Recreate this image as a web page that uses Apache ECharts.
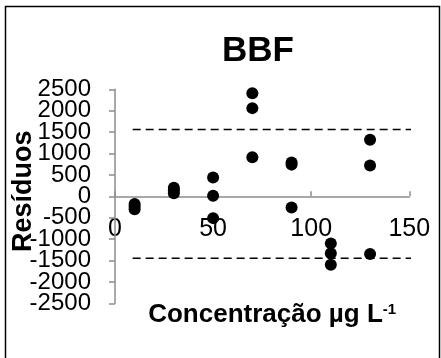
<!DOCTYPE html>
<html>
<head>
<meta charset="utf-8">
<script src="https://cdn.jsdelivr.net/npm/echarts@6/dist/echarts.min.js"></script>
<style>
  html, body { margin: 0; padding: 0; background: #fff; }
  #chart { width: 441px; height: 358px; }
</style>
</head>
<body>
<div id="chart"></div>
<script>
// Residuals per concentration level (three replicates each)
const concentrations = [10, 10, 10, 30, 30, 30, 50, 50, 50, 70, 70, 70, 90, 90, 90, 110, 110, 110, 130, 130, 130];
const residuals = [-180, -240, -300, 200, 140, 70, 440, 15, -510, 2410, 2060, 910, 790, 740, -260, -1100, -1330, -1600, 1320, 720, -1350];

// Upper and lower limit lines (dashed)
const limitX = [9, 153];
const upperLimit = 1560;
const lowerLimit = -1450;

// Axis ticks
const xTicks = [0, 50, 100, 150];
const yTicks = [-2500, -2000, -1500, -1000, -500, 0, 500, 1000, 1500, 2000, 2500];

const points = concentrations.map((c, i) => [c, residuals[i]]);
const upperLine = limitX.map(x => [x, upperLimit]);
const lowerLine = limitX.map(x => [x, lowerLimit]);

const font = 'Liberation Sans, Arial, sans-serif';
const axisGrey = '#8c8c8c';
const plain = v => String(v);
// The tightly packed y labels are split over two coincident axes so that
// neighbouring labels are never dropped for overlapping.
const yStep = 500;
const oddLabels = v => (Math.round(v / yStep) % 2 !== 0 ? String(v) : '');
const evenLabels = v => (Math.round(v / yStep) % 2 === 0 ? String(v) : '');

const yLabelStyle = { margin: 24, fontFamily: font, fontSize: 24, color: '#000', showMinLabel: true, showMaxLabel: true };

const chart = echarts.init(document.getElementById('chart'), null, { renderer: 'canvas' });
chart.setOption({
  backgroundColor: '#fff',
  animation: false,
  title: {
    text: 'BBF',
    left: 253,
    top: 29,
    textAlign: 'center',
    textStyle: { fontFamily: font, fontSize: 35, fontWeight: 'bold', color: '#000' }
  },
  graphic: [{
    type: 'rect',
    shape: { x: 5.5, y: 6.5, width: 434, height: 400 },
    style: { fill: 'none', stroke: '#000', lineWidth: 1.5 },
    silent: true,
    z: 0
  }],
  grid: { left: 115, top: 89.3, width: 294.3, height: 214, containLabel: false, outerBoundsMode: 'none' },
  xAxis: {
    type: 'value',
    min: xTicks[0],
    max: xTicks[xTicks.length - 1],
    interval: 50,
    splitLine: { show: false },
    axisLine: { onZero: true, lineStyle: { color: axisGrey, width: 1.5 } },
    axisTick: { show: true, inside: true, length: 5, lineStyle: { color: axisGrey, width: 1.5 } },
    axisLabel: { margin: -87, fontFamily: font, fontSize: 25, color: '#000', formatter: plain, showMinLabel: true, showMaxLabel: true },
    name: 'Concentração µg L{sup|-1}',
    nameLocation: 'middle',
    nameGap: -1,
    nameMoveOverlap: false,
    nameTextStyle: {
      fontFamily: font, fontSize: 26, fontWeight: 'bold', color: '#000',
      padding: [0, 0, 0, 20],
      rich: {
        sup: { fontFamily: font, fontSize: 15, fontWeight: 'bold', color: '#000', verticalAlign: 'top', padding: [0, 0, 11, 0] }
      }
    }
  },
  yAxis: [
    {
      type: 'value',
      position: 'left',
      min: yTicks[0],
      max: yTicks[yTicks.length - 1],
      interval: yStep,
      splitLine: { show: false },
      axisLine: { show: true, onZero: false, lineStyle: { color: axisGrey, width: 1.5 } },
      axisTick: { show: true, length: 6, lineStyle: { color: axisGrey, width: 1.5 } },
      axisLabel: Object.assign({ formatter: oddLabels }, yLabelStyle),
      name: 'Resíduos',
      nameLocation: 'middle',
      nameRotate: 90,
      nameGap: 78,
      nameMoveOverlap: false,
      nameTextStyle: {
        fontFamily: font, fontSize: 27, fontWeight: 'bold', color: '#000',
        padding: [0, 0, 0, 10]
      },
      z: 3
    },
    {
      type: 'value',
      position: 'left',
      offset: 0,
      min: yTicks[0],
      max: yTicks[yTicks.length - 1],
      interval: yStep,
      splitLine: { show: false },
      axisLine: { show: false, onZero: false },
      axisTick: { show: false },
      axisLabel: Object.assign({ formatter: evenLabels }, yLabelStyle),
      z: 3
    }
  ],
  series: [
    {
      type: 'scatter',
      data: points,
      symbol: 'circle',
      symbolSize: 12,
      itemStyle: { color: '#000', opacity: 1 },
      z: 5
    },
    {
      type: 'line',
      data: upperLine,
      symbol: 'none',
      clip: false,
      lineStyle: { color: '#000', width: 1.5, type: [8, 5] }
    },
    {
      type: 'line',
      data: lowerLine,
      symbol: 'none',
      clip: false,
      lineStyle: { color: '#000', width: 1.5, type: [8, 5] }
    }
  ]
});
</script>
</body>
</html>
